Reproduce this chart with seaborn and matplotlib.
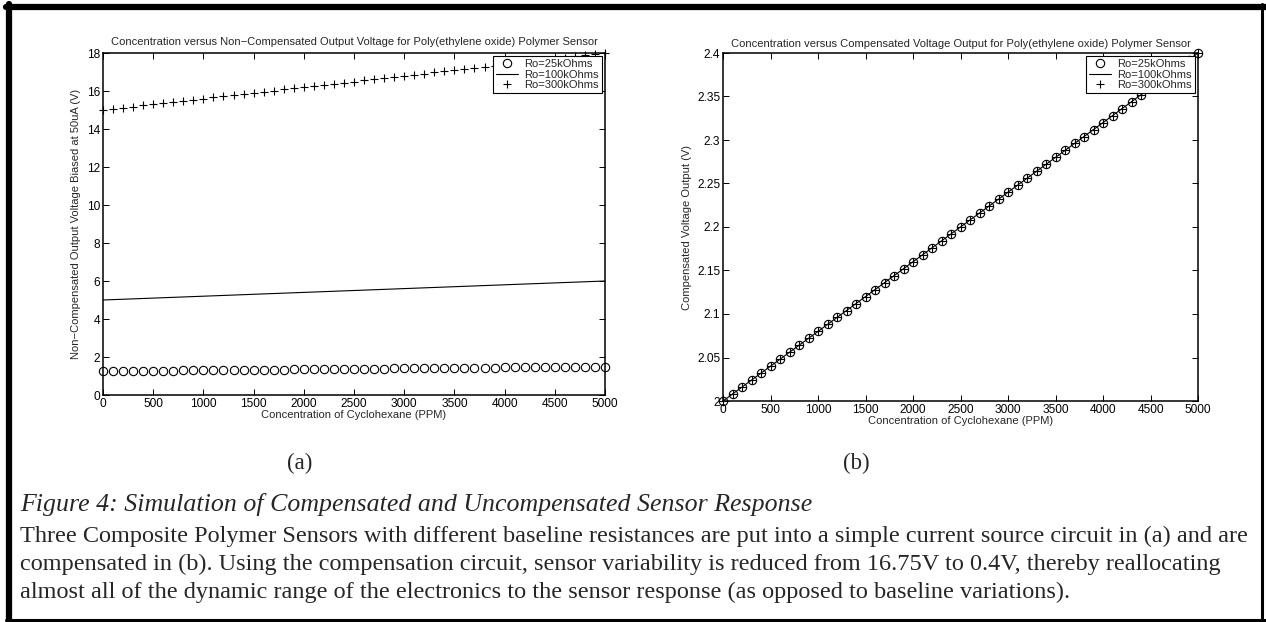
import matplotlib
matplotlib.use("Agg")
import matplotlib.pyplot as plt
import matplotlib.ticker as mticker
from matplotlib.lines import Line2D
import seaborn as sns

# concentration of cyclohexane (PPM)
concentration = [
    0, 100, 200, 300, 400, 500, 600, 700, 800, 900,
    1000, 1100, 1200, 1300, 1400, 1500, 1600, 1700, 1800, 1900,
    2000, 2100, 2200, 2300, 2400, 2500, 2600, 2700, 2800, 2900,
    3000, 3100, 3200, 3300, 3400, 3500, 3600, 3700, 3800, 3900,
    4000, 4100, 4200, 4300, 4400, 4500, 4600, 4700, 4800, 4900,
    5000,
]

# (a) non-compensated output voltage, biased at 50uA
v_25k = [
    1.250, 1.255, 1.260, 1.265, 1.270, 1.275, 1.280, 1.285, 1.290, 1.295,
    1.300, 1.305, 1.310, 1.315, 1.320, 1.325, 1.330, 1.335, 1.340, 1.345,
    1.350, 1.355, 1.360, 1.365, 1.370, 1.375, 1.380, 1.385, 1.390, 1.395,
    1.400, 1.405, 1.410, 1.415, 1.420, 1.425, 1.430, 1.435, 1.440, 1.445,
    1.450, 1.455, 1.460, 1.465, 1.470, 1.475, 1.480, 1.485, 1.490, 1.495,
    1.500,
]
v_100k = [
    5.00, 5.02, 5.04, 5.06, 5.08, 5.10, 5.12, 5.14, 5.16, 5.18,
    5.20, 5.22, 5.24, 5.26, 5.28, 5.30, 5.32, 5.34, 5.36, 5.38,
    5.40, 5.42, 5.44, 5.46, 5.48, 5.50, 5.52, 5.54, 5.56, 5.58,
    5.60, 5.62, 5.64, 5.66, 5.68, 5.70, 5.72, 5.74, 5.76, 5.78,
    5.80, 5.82, 5.84, 5.86, 5.88, 5.90, 5.92, 5.94, 5.96, 5.98,
    6.00,
]
v_300k = [
    15.00, 15.06, 15.12, 15.18, 15.24, 15.30, 15.36, 15.42, 15.48, 15.54,
    15.60, 15.66, 15.72, 15.78, 15.84, 15.90, 15.96, 16.02, 16.08, 16.14,
    16.20, 16.26, 16.32, 16.38, 16.44, 16.50, 16.56, 16.62, 16.68, 16.74,
    16.80, 16.86, 16.92, 16.98, 17.04, 17.10, 17.16, 17.22, 17.28, 17.34,
    17.40, 17.46, 17.52, 17.58, 17.64, 17.70, 17.76, 17.82, 17.88, 17.94,
    18.00,
]

# (b) compensated output, identical for all three sensors
v_comp = [
    2.000, 2.008, 2.016, 2.024, 2.032, 2.040, 2.048, 2.056, 2.064, 2.072,
    2.080, 2.088, 2.096, 2.104, 2.112, 2.120, 2.128, 2.136, 2.144, 2.152,
    2.160, 2.168, 2.176, 2.184, 2.192, 2.200, 2.208, 2.216, 2.224, 2.232,
    2.240, 2.248, 2.256, 2.264, 2.272, 2.280, 2.288, 2.296, 2.304, 2.312,
    2.320, 2.328, 2.336, 2.344, 2.352, 2.360, 2.368, 2.376, 2.384, 2.392,
    2.400,
]

labels = ["Ro=25kOhms", "Ro=100kOhms", "Ro=300kOhms"]
x_ticks = [0, 500, 1000, 1500, 2000, 2500, 3000, 3500, 4000, 4500, 5000]
y_ticks_a = [0, 2, 4, 6, 8, 10, 12, 14, 16, 18]
y_ticks_b = [2.0, 2.05, 2.1, 2.15, 2.2, 2.25, 2.3, 2.35, 2.4]

sns.set_style("ticks")
plt.rcParams["font.family"] = ["Liberation Sans", "DejaVu Sans"]

W, H = 1266, 622
fig = plt.figure(figsize=(12.66, 6.22), dpi=100)
# axes boxes in pixels: left 103-605 / 53-395, right 723-1198 / 53-401
ax1 = fig.add_axes([103 / W, 1 - 395 / H, 502 / W, 342 / H])
ax2 = fig.add_axes([723 / W, 1 - 401 / H, 475 / W, 348 / H])

fs = 8.0
tick_fs = 8.6
mk = dict(color="black", linestyle="", markersize=6, markeredgewidth=0.8,
          mec="black", clip_on=False)


def draw(ax, y25, y100, y300):
    sns.lineplot(x=concentration, y=y25, ax=ax, marker="o", mfc="none",
                 label=labels[0], **mk)
    sns.lineplot(x=concentration, y=y100, ax=ax, color="black",
                 linewidth=0.8, label=labels[1])
    sns.lineplot(x=concentration, y=y300, ax=ax, marker="+",
                 label=labels[2], **mk)


draw(ax1, v_25k, v_100k, v_300k)
draw(ax2, v_comp, v_comp, v_comp)

fmt = mticker.FuncFormatter(lambda v, p: f"{v:g}")
for ax, yt in [(ax1, y_ticks_a), (ax2, y_ticks_b)]:
    ax.set_xlim(0, 5000)
    ax.set_ylim(yt[0], yt[-1])
    ax.set_xticks(x_ticks)
    ax.set_yticks(yt)
    ax.yaxis.set_major_formatter(fmt)
    ax.tick_params(direction="in", top=True, right=True, length=4,
                   width=0.7, labelsize=tick_fs, pad=2, colors="black")
    for s in ax.spines.values():
        s.set_visible(True)
        s.set_linewidth(1.1)
        s.set_color("black")
    ax.set_xlabel("Concentration of Cyclohexane (PPM)", fontsize=fs, labelpad=0)
    leg = ax.legend(loc="upper right", fontsize=fs, frameon=True,
                    fancybox=False, framealpha=1, edgecolor="black",
                    borderaxespad=0.3, handlelength=2.0, labelspacing=0.05,
                    borderpad=0.25, handletextpad=0.6)
    leg.get_frame().set_linewidth(0.8)
    leg.set_zorder(5)

ax1.set_title("Concentration versus Non\u2212Compensated Output Voltage for "
              "Poly(ethylene oxide) Polymer Sensor", fontsize=fs, pad=6)
ax1.set_ylabel("Non\u2212Compensated Output Voltage Biased at 50uA (V)",
               fontsize=fs, labelpad=4)
ax2.set_title("Concentration versus Compensated Voltage Output for "
              "Poly(ethylene oxide) Polymer Sensor", fontsize=fs, pad=4.5)
ax2.set_ylabel("Compensated Voltage Output (V)", fontsize=fs, labelpad=4)

# caption and sub-figure labels
serif = ["Liberation Serif", "DejaVu Serif"]
fig.text(300 / W, 1 - 463 / H, "(a)", family=serif, fontsize=16.5,
         ha="center", va="center")
fig.text(856 / W, 1 - 463 / H, "(b)", family=serif, fontsize=16.5,
         ha="center", va="center")
fig.text(20 / W, 1 - 505 / H,
         "Figure 4: Simulation of Compensated and Uncompensated Sensor Response",
         family=serif, style="italic", fontsize=18.6, va="center")
caption = [
    "Three Composite Polymer Sensors with different baseline resistances are put "
    "into a simple current source circuit in (a) and are",
    "compensated in (b). Using the compensation circuit, sensor variability is "
    "reduced from 16.75V to 0.4V, thereby reallocating",
    "almost all of the dynamic range of the electronics to the sensor response "
    "(as opposed to baseline variations).",
]
for i, line in enumerate(caption):
    fig.text(20 / W, 1 - (536 + 28 * i) / H, line, family=serif,
             fontsize=17.5, va="center")

# page frame around the figure
fig.add_artist(Line2D([6 / W, 1], [1 - 7 / H, 1 - 7 / H], color="black", linewidth=4.5))
fig.add_artist(Line2D([9 / W, 9 / W], [0, 1 - 4 / H], color="black", linewidth=4.5))
fig.add_artist(Line2D([1262 / W, 1262 / W], [0, 1 - 4 / H], color="black", linewidth=2.2))
fig.add_artist(Line2D([6 / W, 1], [1 - 620 / H, 1 - 620 / H], color="black", linewidth=2.2))

fig.savefig("out.png", dpi=100)
